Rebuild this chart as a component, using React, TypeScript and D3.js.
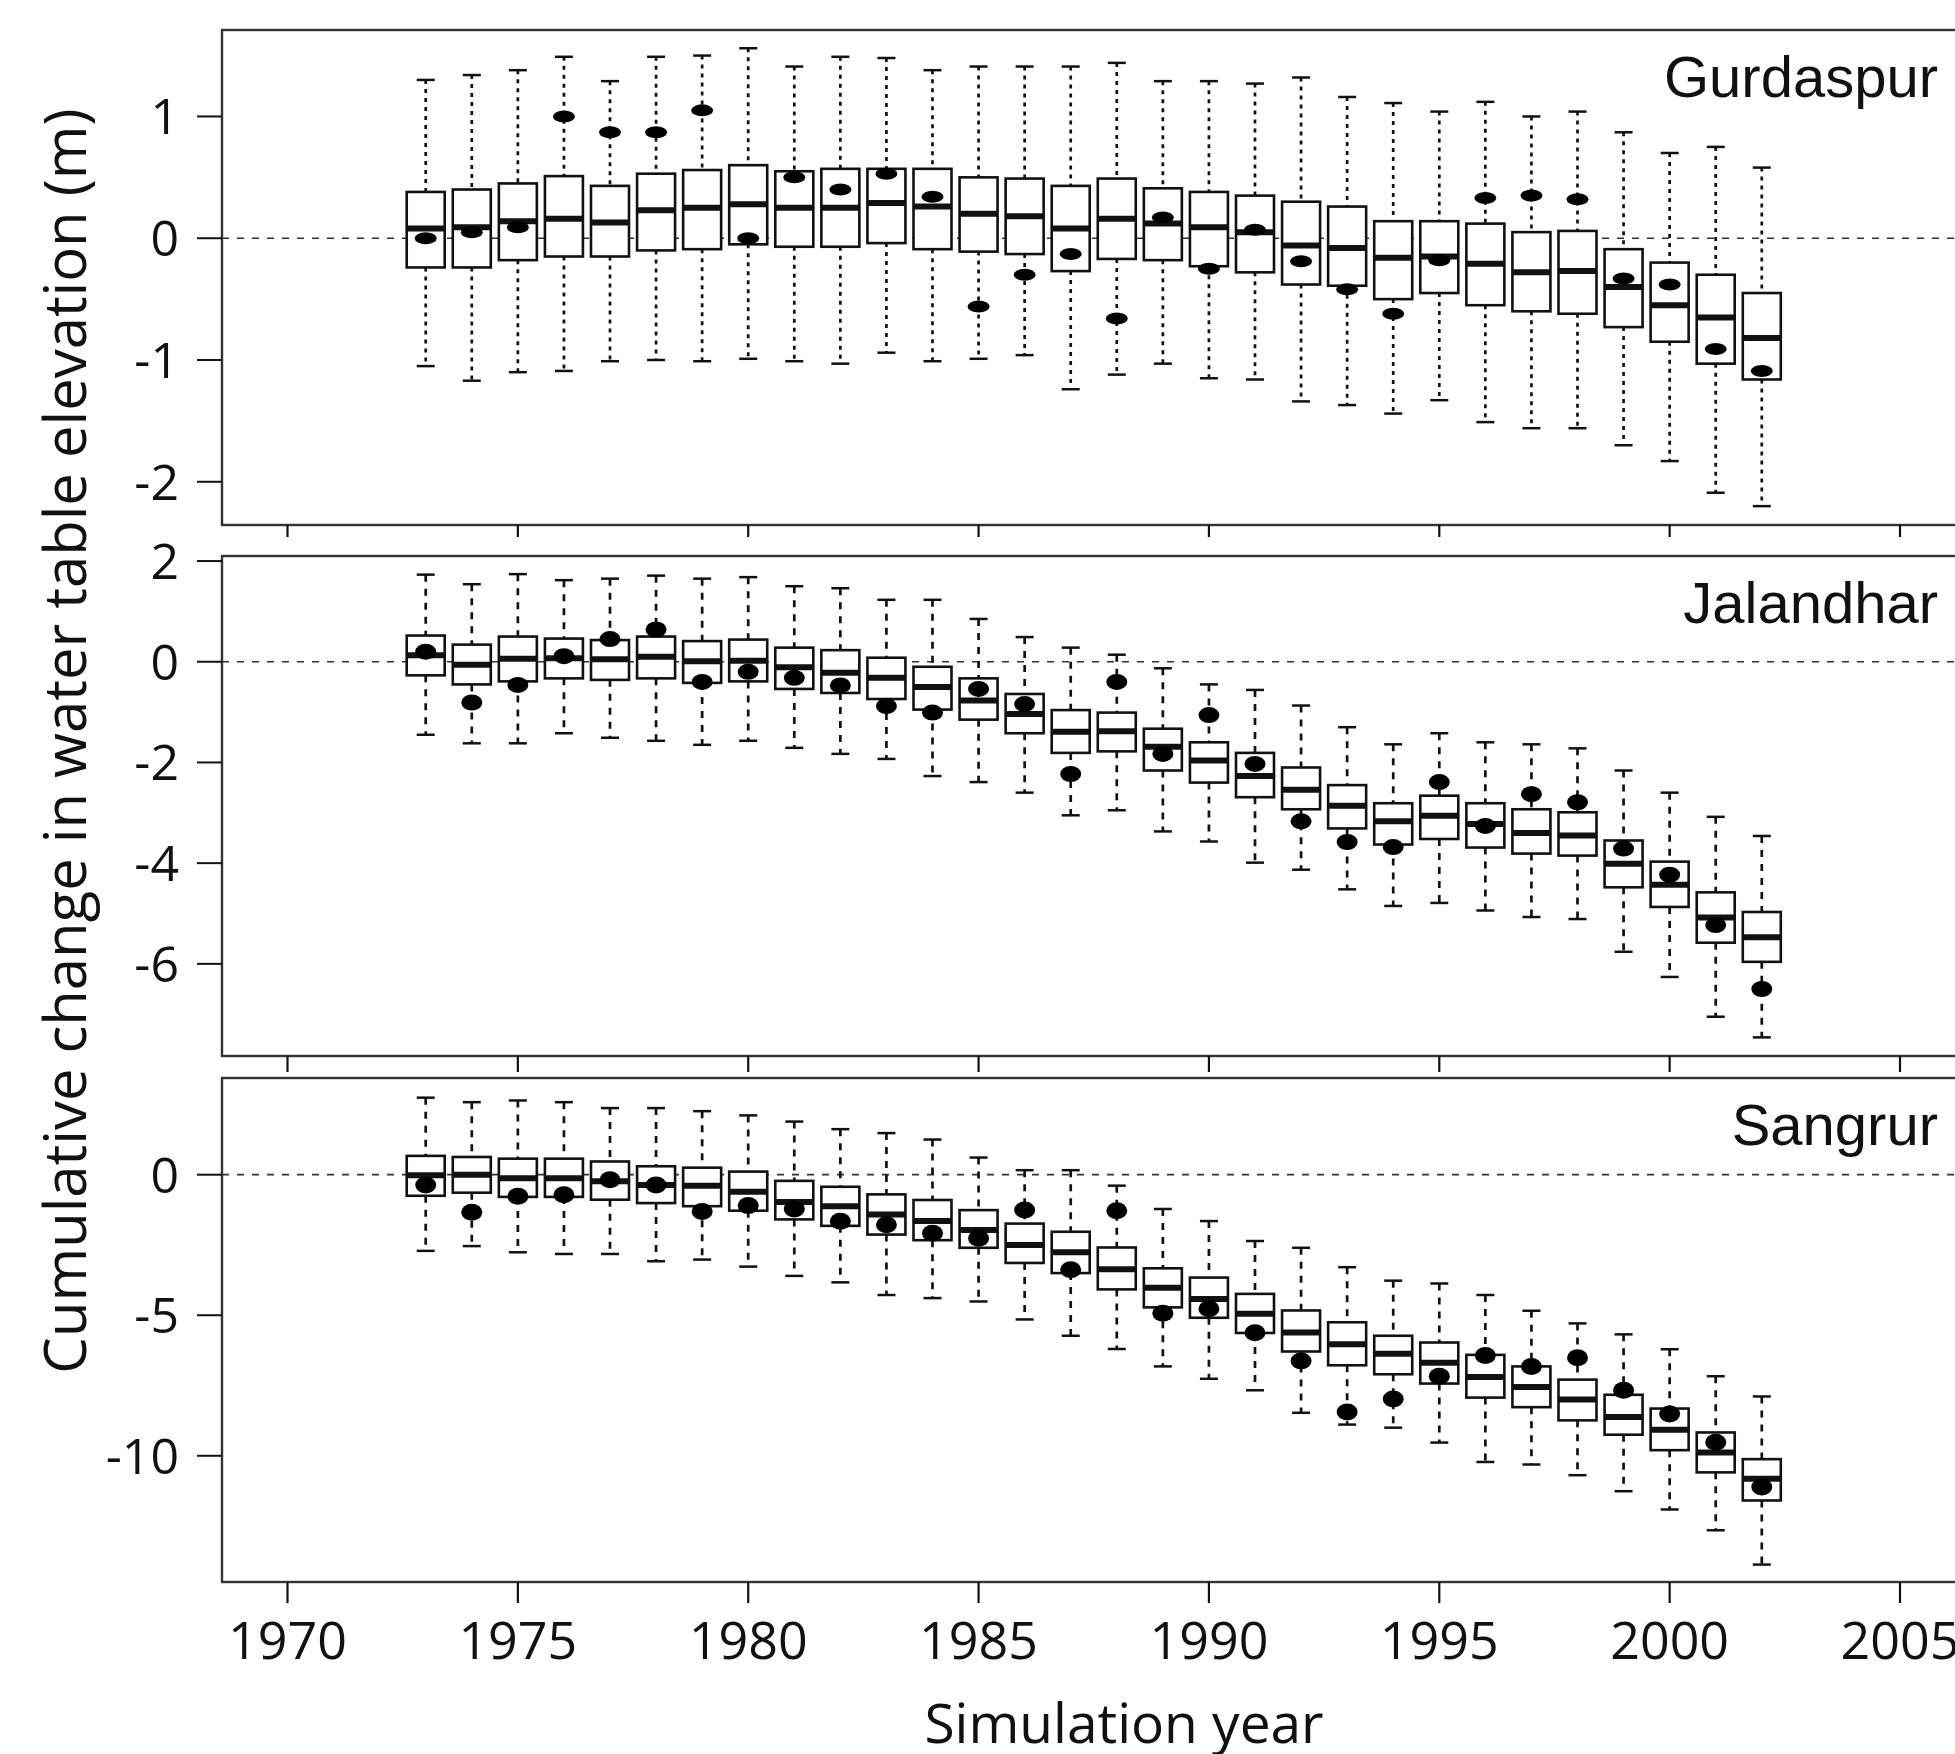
import React from 'react';
import * as d3 from 'd3';

// simulation years (one box per year)
const years = [
  1973, 1974, 1975, 1976, 1977, 1978, 1979, 1980, 1981, 1982,
  1983, 1984, 1985, 1986, 1987, 1988, 1989, 1990, 1991, 1992,
  1993, 1994, 1995, 1996, 1997, 1998, 1999, 2000, 2001, 2002,
];
const xTicks = [1970, 1975, 1980, 1985, 1990, 1995, 2000, 2005];

// Gurdaspur
const gurHigh = [1.30, 1.34, 1.38, 1.49, 1.29, 1.49, 1.50, 1.56, 1.41, 1.49, 1.48, 1.38, 1.41, 1.41, 1.41, 1.44, 1.29, 1.29, 1.27, 1.32, 1.16, 1.11, 1.04, 1.12, 1.00, 1.04, 0.87, 0.70, 0.75, 0.58];
const gurQ3 = [0.38, 0.40, 0.45, 0.51, 0.43, 0.53, 0.56, 0.60, 0.55, 0.57, 0.57, 0.57, 0.50, 0.49, 0.43, 0.49, 0.41, 0.38, 0.35, 0.30, 0.26, 0.14, 0.14, 0.12, 0.05, 0.06, -0.09, -0.20, -0.30, -0.45];
const gurMedian = [0.08, 0.09, 0.14, 0.16, 0.13, 0.23, 0.25, 0.28, 0.25, 0.25, 0.29, 0.26, 0.20, 0.18, 0.08, 0.16, 0.12, 0.09, 0.05, -0.06, -0.08, -0.16, -0.15, -0.21, -0.28, -0.27, -0.40, -0.55, -0.65, -0.82];
const gurQ1 = [-0.24, -0.24, -0.18, -0.15, -0.15, -0.10, -0.09, -0.05, -0.07, -0.07, -0.04, -0.09, -0.11, -0.13, -0.27, -0.17, -0.18, -0.23, -0.28, -0.38, -0.39, -0.50, -0.45, -0.55, -0.60, -0.62, -0.73, -0.85, -1.03, -1.16];
const gurLow = [-1.05, -1.17, -1.10, -1.09, -1.01, -1.00, -1.01, -0.99, -1.01, -1.03, -0.94, -1.01, -0.99, -0.96, -1.24, -1.12, -1.03, -1.15, -1.16, -1.34, -1.37, -1.44, -1.33, -1.51, -1.56, -1.56, -1.70, -1.83, -2.09, -2.20];
const gurObserved = [0.00, 0.05, 0.09, 1.00, 0.87, 0.87, 1.05, 0.00, 0.50, 0.40, 0.53, 0.34, -0.56, -0.30, -0.13, -0.66, 0.17, -0.25, 0.07, -0.19, -0.42, -0.62, -0.18, 0.33, 0.35, 0.32, -0.33, -0.38, -0.91, -1.09];

// Jalandhar
const jalHigh = [1.73, 1.54, 1.74, 1.62, 1.65, 1.71, 1.65, 1.68, 1.50, 1.46, 1.23, 1.23, 0.85, 0.49, 0.28, 0.14, -0.13, -0.45, -0.56, -0.87, -1.30, -1.64, -1.42, -1.60, -1.64, -1.72, -2.16, -2.60, -3.08, -3.46];
const jalQ3 = [0.52, 0.34, 0.50, 0.46, 0.43, 0.50, 0.41, 0.44, 0.28, 0.23, 0.08, -0.10, -0.33, -0.64, -0.96, -1.01, -1.33, -1.60, -1.81, -2.10, -2.45, -2.81, -2.66, -2.81, -2.93, -2.99, -3.55, -3.97, -4.58, -4.97];
const jalMedian = [0.13, -0.06, 0.06, 0.07, 0.05, 0.10, 0.01, 0.02, -0.11, -0.22, -0.32, -0.50, -0.77, -1.04, -1.39, -1.38, -1.69, -1.96, -2.27, -2.54, -2.86, -3.17, -3.06, -3.22, -3.40, -3.45, -4.01, -4.43, -5.08, -5.47];
const jalQ1 = [-0.27, -0.45, -0.39, -0.33, -0.36, -0.33, -0.42, -0.39, -0.54, -0.62, -0.74, -0.95, -1.15, -1.42, -1.81, -1.78, -2.16, -2.40, -2.69, -2.93, -3.31, -3.63, -3.52, -3.69, -3.81, -3.85, -4.48, -4.87, -5.58, -5.96];
const jalLow = [-1.45, -1.62, -1.62, -1.42, -1.51, -1.57, -1.65, -1.57, -1.71, -1.83, -1.93, -2.27, -2.39, -2.60, -3.05, -2.95, -3.37, -3.57, -3.99, -4.13, -4.52, -4.85, -4.79, -4.94, -5.07, -5.11, -5.76, -6.26, -7.05, -7.46];
const jalObserved = [0.20, -0.81, -0.46, 0.11, 0.45, 0.64, -0.40, -0.20, -0.32, -0.47, -0.88, -1.01, -0.54, -0.84, -2.23, -0.40, -1.83, -1.06, -2.03, -3.17, -3.58, -3.68, -2.39, -3.26, -2.63, -2.79, -3.71, -4.23, -5.23, -6.50];

// Sangrur
const sanHigh = [2.74, 2.58, 2.64, 2.58, 2.37, 2.37, 2.26, 2.11, 1.89, 1.62, 1.48, 1.25, 0.61, 0.16, 0.16, -0.39, -1.22, -1.65, -2.36, -2.60, -3.29, -3.77, -3.87, -4.28, -4.84, -5.29, -5.68, -6.21, -7.17, -7.89];
const sanQ3 = [0.67, 0.63, 0.57, 0.57, 0.47, 0.30, 0.25, 0.11, -0.22, -0.43, -0.70, -0.90, -1.26, -1.74, -2.03, -2.59, -3.33, -3.66, -4.24, -4.83, -5.25, -5.73, -5.97, -6.41, -6.82, -7.29, -7.83, -8.32, -9.17, -10.12];
const sanMedian = [-0.02, 0.00, -0.13, -0.13, -0.23, -0.37, -0.39, -0.61, -0.97, -1.12, -1.42, -1.65, -1.97, -2.50, -2.76, -3.36, -4.02, -4.42, -4.95, -5.61, -6.03, -6.37, -6.69, -7.20, -7.55, -8.00, -8.62, -9.07, -9.88, -10.82];
const sanQ1 = [-0.75, -0.64, -0.79, -0.79, -0.89, -1.01, -1.12, -1.28, -1.59, -1.82, -2.13, -2.33, -2.60, -3.14, -3.50, -4.08, -4.72, -5.09, -5.63, -6.29, -6.78, -7.10, -7.43, -7.93, -8.27, -8.74, -9.25, -9.80, -10.59, -11.59];
const sanLow = [-2.71, -2.54, -2.76, -2.82, -2.82, -3.08, -3.02, -3.27, -3.60, -3.83, -4.28, -4.39, -4.51, -5.15, -5.73, -6.20, -6.82, -7.26, -7.67, -8.47, -8.89, -9.00, -9.53, -10.22, -10.31, -10.69, -11.26, -11.91, -12.65, -13.87];
const sanObserved = [-0.37, -1.34, -0.77, -0.71, -0.18, -0.37, -1.31, -1.10, -1.22, -1.66, -1.78, -2.08, -2.26, -1.26, -3.38, -1.28, -4.93, -4.77, -5.62, -6.63, -8.44, -7.98, -7.17, -6.43, -6.82, -6.51, -7.67, -8.51, -9.52, -11.11];

const gurTicks = [1, 0, -1, -2];
const jalTicks = [2, 0, -2, -4, -6];
const sanTicks = [0, -5, -10];

const W = 1955;
const H = 1754;
const left = 222;
const right = 1962;
const ink = '#111';
const frame = '#333';
const sansFont = "'Open Sans', 'Noto Sans', sans-serif";
const titleFont = "'Liberation Sans', Arial, sans-serif";

const x = d3.scaleLinear().domain([1970, 2005]).range([287.5, 1900]);
const boxW = 38;
const capW = 18;

const panels = [
  {
    name: 'Gurdaspur', top: 30, bottom: 525, domain: [-2.355, 1.71], ticks: gurTicks,
    high: gurHigh, q3: gurQ3, med: gurMedian, q1: gurQ1, low: gurLow, obs: gurObserved,
    rx: 11, ry: 6, tickLen: 12, dash: '4,5',
  },
  {
    name: 'Jalandhar', top: 556, bottom: 1056, domain: [-7.83, 2.1], ticks: jalTicks,
    high: jalHigh, q3: jalQ3, med: jalMedian, q1: jalQ1, low: jalLow, obs: jalObserved,
    rx: 10.5, ry: 8, tickLen: 16, dash: '7,7',
  },
  {
    name: 'Sangrur', top: 1078, bottom: 1582, domain: [-14.49, 3.44], ticks: sanTicks,
    high: sanHigh, q3: sanQ3, med: sanMedian, q1: sanQ1, low: sanLow, obs: sanObserved,
    rx: 10.5, ry: 8.5, tickLen: 21, dash: '7,7',
  },
];

function Panel({ p, last }) {
  const y = d3.scaleLinear().domain(p.domain).range([p.bottom, p.top]);
  return (
    <g>
      {/* zero reference */}
      <line x1={left} x2={right} y1={y(0)} y2={y(0)} stroke={frame} strokeWidth={1.7} strokeDasharray="7,8" />

      {years.map((yr, i) => {
        const cx = x(yr);
        return (
          <g key={yr}>
            <line x1={cx} x2={cx} y1={y(p.high[i])} y2={y(p.q3[i])} stroke={ink} strokeWidth={2.7} strokeDasharray={p.dash} />
            <line x1={cx} x2={cx} y1={y(p.q1[i])} y2={y(p.low[i])} stroke={ink} strokeWidth={2.7} strokeDasharray={p.dash} />
            <line x1={cx - capW / 2} x2={cx + capW / 2} y1={y(p.high[i])} y2={y(p.high[i])} stroke={ink} strokeWidth={2.5} />
            <line x1={cx - capW / 2} x2={cx + capW / 2} y1={y(p.low[i])} y2={y(p.low[i])} stroke={ink} strokeWidth={2.5} />
            <rect x={cx - boxW / 2} y={y(p.q3[i])} width={boxW} height={y(p.q1[i]) - y(p.q3[i])} fill="#fff" stroke={ink} strokeWidth={2.6} />
            <line x1={cx - boxW / 2} x2={cx + boxW / 2} y1={y(p.med[i])} y2={y(p.med[i])} stroke={ink} strokeWidth={6} />
          </g>
        );
      })}
      {years.map((yr, i) => (
        <ellipse key={'o' + yr} cx={x(yr)} cy={y(p.obs[i])} rx={p.rx} ry={p.ry} fill="#000" />
      ))}

      {/* frame */}
      <rect x={left} y={p.top} width={right - left} height={p.bottom - p.top} fill="none" stroke={frame} strokeWidth={2.4} />

      {/* y axis */}
      {p.ticks.map((t) => (
        <g key={t}>
          <line x1={left - 25} x2={left} y1={y(t)} y2={y(t)} stroke={ink} strokeWidth={2} />
          <text x={179} y={y(t)} dy="0.36em" textAnchor="end" fontFamily={sansFont} fontSize={50} fill="#111">
            {t}
          </text>
        </g>
      ))}

      {/* x ticks */}
      {xTicks.map((t) => (
        <g key={t}>
          <line x1={x(t)} x2={x(t)} y1={p.bottom} y2={p.bottom + p.tickLen} stroke={ink} strokeWidth={2.2} />
          {last && (
            <text x={x(t)} y={1659} textAnchor="middle" fontFamily={sansFont} fontSize={52} fill="#111">
              {t}
            </text>
          )}
        </g>
      ))}

      <text x={1938} y={p.top + 67} textAnchor="end" fontFamily={titleFont} fontSize={58} fill="#111">
        {p.name}
      </text>
    </g>
  );
}

export default function App() {
  return (
    <svg width={W} height={H} style={{ position: 'absolute', left: 0, top: 0, background: '#fff' }}>
      <rect width={W} height={H} fill="#fff" />
      {panels.map((p, i) => (
        <Panel key={p.name} p={p} last={i === panels.length - 1} />
      ))}
      <text transform="translate(86,741) rotate(-90)" textAnchor="middle" fontFamily={sansFont} fontSize={58} fill="#111">
        Cumulative change in water table elevation (m)
      </text>
      <text x={1124} y={1743} textAnchor="middle" fontFamily={sansFont} fontSize={55} fill="#111">
        Simulation year
      </text>
    </svg>
  );
}
